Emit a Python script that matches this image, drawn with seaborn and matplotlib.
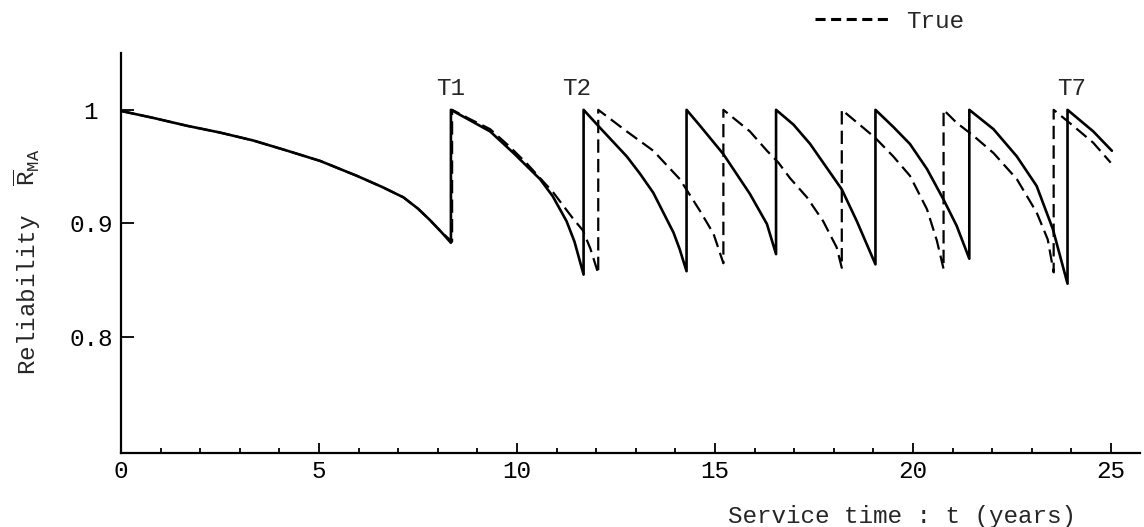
import matplotlib
matplotlib.use('Agg')
import matplotlib.pyplot as plt
from matplotlib.lines import Line2D
from matplotlib.ticker import MultipleLocator
import seaborn as sns

# Estimated reliability (solid) - jumps at each maintenance time
est_t = [0, 0.8, 1.66, 2.5, 3.34, 4.2, 5.03, 5.95, 6.6, 7.13, 7.5, 7.8, 8.1, 8.33,
         8.33, 8.8, 9.32, 9.91, 10.58, 10.9, 11.25, 11.45, 11.68,
         11.68, 12.1, 12.77, 13.1, 13.44, 13.95, 14.1, 14.28,
         14.28, 14.62, 15.21, 15.88, 16.31, 16.54,
         16.54, 16.98, 17.4, 17.82, 18.2, 18.58, 19.05,
         19.05, 19.5, 19.92, 20.35, 20.77, 21.1, 21.42,
         21.42, 22.03, 22.62, 23.12, 23.53, 23.9,
         23.9, 24.55, 25.02]
est_r = [0.999, 0.993, 0.986, 0.980, 0.973, 0.964, 0.955, 0.942, 0.932, 0.923, 0.913, 0.903, 0.892, 0.883,
         1.0, 0.991, 0.981, 0.962, 0.939, 0.924, 0.902, 0.884, 0.855,
         1.0, 0.984, 0.959, 0.944, 0.927, 0.892, 0.878, 0.858,
         1.0, 0.986, 0.961, 0.926, 0.8995, 0.873,
         1.0, 0.987, 0.970, 0.949, 0.930, 0.902, 0.864,
         1.0, 0.985, 0.970, 0.948, 0.921, 0.898, 0.869,
         1.0, 0.983, 0.959, 0.933, 0.895, 0.847,
         1.0, 0.981, 0.964]

# True reliability (dashed)
true_t = [0, 0.8, 1.66, 2.5, 3.34, 4.2, 5.03, 5.95, 6.6, 7.13, 7.5, 7.8, 8.1, 8.36,
          8.36, 8.8, 9.32, 9.8, 10.24, 10.92, 11.42, 11.66, 11.85, 12.05,
          12.05, 12.77, 13.44, 14.11, 14.62, 14.96, 15.21,
          15.21, 15.88, 16.31, 16.6, 16.89, 17.32, 17.73, 18.07, 18.2,
          18.2, 18.75, 19.04, 19.5, 19.92, 20.35, 20.6, 20.77,
          20.77, 21.1, 21.53, 22.03, 22.62, 23.12, 23.4, 23.55,
          23.55, 24.05, 24.55, 24.99]
true_r = [0.999, 0.993, 0.986, 0.980, 0.973, 0.964, 0.955, 0.942, 0.932, 0.923, 0.913, 0.903, 0.892, 0.884,
          1.0, 0.992, 0.983, 0.968, 0.953, 0.927, 0.904, 0.894, 0.878, 0.856,
          1.0, 0.981, 0.964, 0.939, 0.911, 0.891, 0.865,
          1.0, 0.981, 0.964, 0.9535, 0.940, 0.923, 0.902, 0.879, 0.861,
          1.0, 0.984, 0.9755, 0.959, 0.942, 0.9126, 0.885, 0.860,
          1.0, 0.9886, 0.977, 0.962, 0.939, 0.9097, 0.886, 0.857,
          1.0, 0.9857, 0.971, 0.9535]

marks = ['T1', 'T2', 'T7']
mark_t = [8.32, 11.5, 24.0]

y_ticks = [0.8, 0.9, 1.0]
y_labels = ['0.8', '0.9', '1 ']

sns.set_style('ticks')
plt.rcParams['font.family'] = ['Liberation Mono', 'DejaVu Sans']
plt.rcParams['mathtext.fontset'] = 'custom'
plt.rcParams['mathtext.rm'] = 'Liberation Mono'
fs = 17.5

fig = plt.figure(figsize=(11.44, 5.27), dpi=100)
ax = fig.add_axes([0.1058, 0.1404, 0.8907, 0.759])

sns.lineplot(x=est_t, y=est_r, sort=False, estimator=None, color='black', lw=1.9, ax=ax)
sns.lineplot(x=true_t, y=true_r, sort=False, estimator=None, color='black', lw=1.6,
             linestyle=(0, (6, 2.8)), ax=ax)

for m, t in zip(marks, mark_t):
    ax.text(t, 1.019, m, ha='center', va='center', fontsize=fs)

ax.set_xlim(0, 25.73)
ax.set_ylim(0.698, 1.05)
ax.set_xticks([0, 5, 10, 15, 20, 25])
ax.xaxis.set_minor_locator(MultipleLocator(1))
ax.set_yticks(y_ticks)
ax.set_yticklabels(y_labels)

sns.despine(ax=ax)
for s in ['left', 'bottom']:
    ax.spines[s].set_linewidth(1.6)
    ax.spines[s].set_color('black')
ax.tick_params(axis='both', which='both', direction='in', colors='black', labelsize=fs,
               width=1.3, bottom=True, left=True, top=False, right=False)
ax.tick_params(axis='x', which='major', length=7, pad=5)
ax.tick_params(axis='x', which='minor', length=3.5)
ax.tick_params(axis='y', which='major', length=9, pad=6)
ax.tick_params(axis='y', which='minor', left=False)

ax.set_xlabel('Service time : t (years)', fontsize=fs)
ax.xaxis.set_label_coords(0.766, -0.13)
ax.set_ylabel(r'Reliability  $\overline{\mathrm{R}}_{\mathrm{MA}}$', fontsize=fs)
ax.yaxis.set_label_coords(-0.077, 0.479)

# legend key with the short dashes of the original
key = Line2D([], [], color='black', lw=2.2, linestyle=(0, (3.3, 1.8)))
fig.legend(handles=[key], labels=['True'], loc='center left',
           bbox_to_anchor=(0.7124, 0.960), frameon=False, fontsize=fs,
           handlelength=3.1, handletextpad=0.64, borderpad=0, borderaxespad=0)

plt.savefig('out.png', dpi=100)
